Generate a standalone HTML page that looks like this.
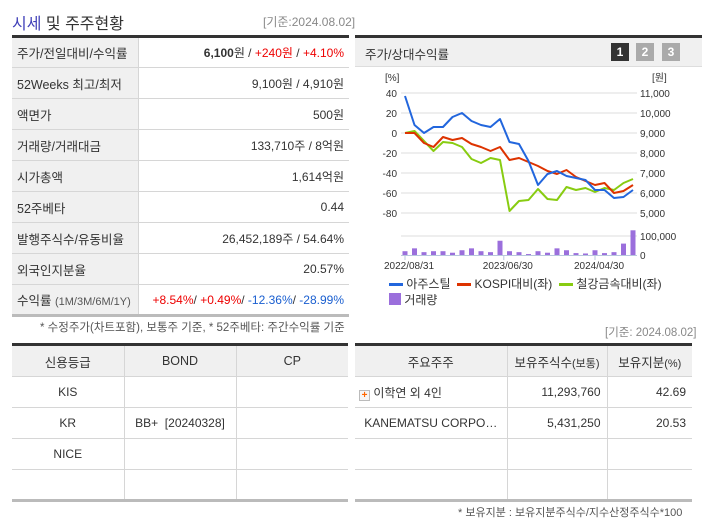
<!DOCTYPE html>
<html><head><meta charset="utf-8">
<style>
*{margin:0;padding:0;box-sizing:border-box}
body{width:702px;height:525px;background:#fff;position:relative;overflow:hidden;font-family:"Liberation Sans","Noto Sans CJK KR",sans-serif;font-size:12px;color:#333}
.abs{position:absolute}
table{border-collapse:collapse;position:absolute;table-layout:fixed}
td{height:31px;border-bottom:1px solid #d6d6d6;white-space:nowrap;overflow:hidden}
.t1 td.l{background:#f0f0f0;border-right:1px solid #d6d6d6;padding-left:5px;font-size:12.5px}
.t1 td.r{text-align:right;padding-right:5px;font-size:12px}
.red{color:#e00}.blue{color:#1a5fd0}
.bt td{text-align:center;border-right:1px solid #d6d6d6;font-size:12px}
.bt td:last-child{border-right:none}
.bt tr.h td{background:#f0f0f0;height:32px;font-size:12.5px}
</style></head><body>
<div class="abs" style="left:12px;top:10px;font-size:16px;color:#333"><span style="color:#3f3fb8">시세</span> 및 주주현황</div>
<div class="abs" style="left:263px;top:13px;font-size:12px;color:#888">[기준:2024.08.02]</div>

<table class="t1" style="left:12px;top:35px;width:337px;border-top:3px solid #333;border-bottom:3px solid #bbb">
<colgroup><col style="width:126px"><col></colgroup>
<tr><td class="l">주가/전일대비/수익률</td><td class="r"><b>6,100</b>원 / <span class="red">+240원</span> / <span class="red">+4.10%</span></td></tr>
<tr><td class="l">52Weeks 최고/최저</td><td class="r">9,100원 / 4,910원</td></tr>
<tr><td class="l">액면가</td><td class="r">500원</td></tr>
<tr><td class="l">거래량/거래대금</td><td class="r">133,710주 / 8억원</td></tr>
<tr><td class="l">시가총액</td><td class="r">1,614억원</td></tr>
<tr><td class="l">52주베타</td><td class="r">0.44</td></tr>
<tr><td class="l">발행주식수/유동비율</td><td class="r">26,452,189주 / 54.64%</td></tr>
<tr><td class="l">외국인지분율</td><td class="r">20.57%</td></tr>
<tr><td class="l">수익률 <span style="font-size:11px;color:#555">(1M/3M/6M/1Y)</span></td><td class="r"><span class="red">+8.54%</span>/ <span class="red">+0.49%</span>/ <span class="blue">-12.36%</span>/ <span class="blue">-28.99%</span></td></tr>
</table>
<div class="abs" style="left:40px;top:319px;font-size:11.5px;color:#555">* 수정주가(차트포함), 보통주 기준, * 52주베타: 주간수익률 기준</div>

<div class="abs" style="left:355px;top:35px;width:347px;height:32px;background:#f0f0f0;border-top:3px solid #333;border-bottom:1px solid #ddd"></div>
<div class="abs" style="left:365px;top:44px;font-size:12.5px">주가/상대수익률</div>
<div class="abs" style="left:611px;top:43px;width:18px;height:18px;background:#333;color:#fff;font-weight:bold;text-align:center;line-height:18px">1</div>
<div class="abs" style="left:636px;top:43px;width:18px;height:18px;background:#aaa;color:#fff;font-weight:bold;text-align:center;line-height:18px">2</div>
<div class="abs" style="left:662px;top:43px;width:18px;height:18px;background:#aaa;color:#fff;font-weight:bold;text-align:center;line-height:18px">3</div>

<svg class="abs" id="chart" style="left:0;top:0" width="702" height="525"></svg>

<div class="abs" style="left:389px;top:276px;font-size:12px;line-height:16px;color:#333">
<span><span style="display:inline-block;width:14px;height:3px;background:#2266dd;vertical-align:middle"></span> 아주스틸</span>&nbsp;
<span><span style="display:inline-block;width:14px;height:3px;background:#dd3300;vertical-align:middle"></span> KOSPI대비(좌)</span>&nbsp;
<span><span style="display:inline-block;width:14px;height:3px;background:#88cc11;vertical-align:middle"></span> 철강금속대비(좌)</span><br>
<span><span style="display:inline-block;width:12px;height:12px;background:#9b6fdc;vertical-align:-1px"></span> 거래량</span>
</div>

<div class="abs" style="left:605px;top:324px;font-size:11.5px;color:#888">[기준: 2024.08.02]</div>

<table class="bt" style="left:12px;top:343px;width:336px;border-top:3px solid #333;border-bottom:3px solid #bbb">
<colgroup><col style="width:112px"><col style="width:112px"><col></colgroup>
<tr class="h"><td>신용등급</td><td>BOND</td><td>CP</td></tr>
<tr><td>KIS</td><td></td><td></td></tr>
<tr><td>KR</td><td>BB+ &nbsp;[20240328]</td><td></td></tr>
<tr><td>NICE</td><td></td><td></td></tr>
<tr><td></td><td></td><td></td></tr>
</table>

<table class="bt" style="left:355px;top:343px;width:337px;border-top:3px solid #333;border-bottom:3px solid #bbb">
<colgroup><col style="width:152px"><col style="width:100px"><col></colgroup>
<tr class="h"><td>주요주주</td><td>보유주식수<span style="font-size:11px">(보통)</span></td><td>보유지분<span style="font-size:11px">(%)</span></td></tr>
<tr><td style="text-align:left;padding-left:4px"><span style="display:inline-block;width:11px;height:11px;border:1px solid #bbb;background:#f6f6f6;color:#f60;font-size:10px;line-height:9px;text-align:center;font-weight:bold;vertical-align:-1px">+</span> 이학연 외 4인</td><td style="text-align:right;padding-right:6px">11,293,760</td><td style="text-align:right;padding-right:6px">42.69</td></tr>
<tr><td>KANEMATSU CORPO…</td><td style="text-align:right;padding-right:6px">5,431,250</td><td style="text-align:right;padding-right:6px">20.53</td></tr>
<tr><td></td><td></td><td></td></tr>
<tr><td></td><td></td><td></td></tr>
</table>
<div class="abs" style="left:458px;top:504px;font-size:11px;color:#555">* 보유지분 : 보유지분주식수/지수산정주식수*100</div>

<script>
const pctTicks=[40,20,0,-20,-40,-60,-80];
const priceTicks=["11,000","10,000","9,000","8,000","7,000","6,000","5,000"];
const ajuSteel=[37,8,0,6,6,16,20,12,8,6,14,-9,-11,-28,-52,-41,-38,-43,-45,-47,-57,-57,-65,-64,-57];
const kospiRel=[0,0,-10,-14,-4,-7,-5,-11,-14,-18,-14,-27,-25,-29,-33,-38,-41,-37,-44,-48,-52,-50,-60,-58,-52];
const steelRel=[0,2,-8,-18,-9,-10,-14,-26,-30,-25,-27,-78,-68,-67,-56,-66,-67,-54,-57,-55,-59,-55,-57,-50,-46];
const volume=[20,35,15,20,20,12,25,35,20,15,75,20,15,5,20,12,35,25,10,8,25,10,15,60,130];
const xLabels=["2022/08/31","2023/06/30","2024/04/30"];
const xLabelIdx=[0,10.4,20];

const svg=document.getElementById('chart');
const NS='http://www.w3.org/2000/svg';
const X0=405,X1=633;
const n=ajuSteel.length;
const xs=i=>X0+i*(X1-X0)/(n-1);
const ys=v=>133-v;
const yv=v=>255-v*0.19;
function mk(t,a){const e=document.createElementNS(NS,t);for(const k in a)e.setAttribute(k,a[k]);svg.appendChild(e);return e;}
function txt(x,y,s,anchor){const e=mk('text',{x:x,y:y,'font-size':'10','fill':'#333','text-anchor':anchor||'start','font-family':'Liberation Sans, Noto Sans CJK KR, sans-serif'});e.textContent=s;return e;}

pctTicks.forEach((v,i)=>{
  const g=mk('line',{x1:X0-4,x2:X1+4,y1:ys(v),y2:ys(v),stroke:'#ddd','stroke-width':1});
  
  
  const l=txt(397,ys(v)+4,String(v),'end');
  
  
  const r=txt(640,ys(v)+4,priceTicks[i]);
  
  
});
const u1=txt(385,81,'[%]');
const u2=txt(652,81,'[원]');
const vg=mk('line',{x1:X0-4,x2:X1+4,y1:yv(100),y2:yv(100),stroke:'#ddd'});


const vt=txt(640,yv(100)+4,'100,000');
const vt0=txt(640,259,'0');

volume.forEach((v,i)=>{
  const b=mk('rect',{x:xs(i)-2.5,y:yv(v),width:5,height:255-yv(v),fill:'#9b6fdc'});
  
  
});
const ax=mk('line',{x1:X0-4,x2:X1+4,y1:255.5,y2:255.5,stroke:'#b8c8dd'});


xLabels.forEach((s,k)=>{
  const x=xs(xLabelIdx[k]);
  const t=mk('line',{x1:x,x2:x,y1:255,y2:260,stroke:'#b8c8dd'});
  
  
  const l=txt(x+4,269,s,'middle');
  
  
});
function line(arr,color,name){
  const p=mk('polyline',{points:arr.map((v,i)=>xs(i)+','+ys(v)).join(' '),fill:'none',stroke:color,'stroke-width':2,'stroke-linejoin':'round'});
  
  
}
line(steelRel,'#88cc11','steel-relative-line');
line(kospiRel,'#dd3300','kospi-relative-line');
line(ajuSteel,'#2266dd','ajusteel-line');
</script>
</body></html>
